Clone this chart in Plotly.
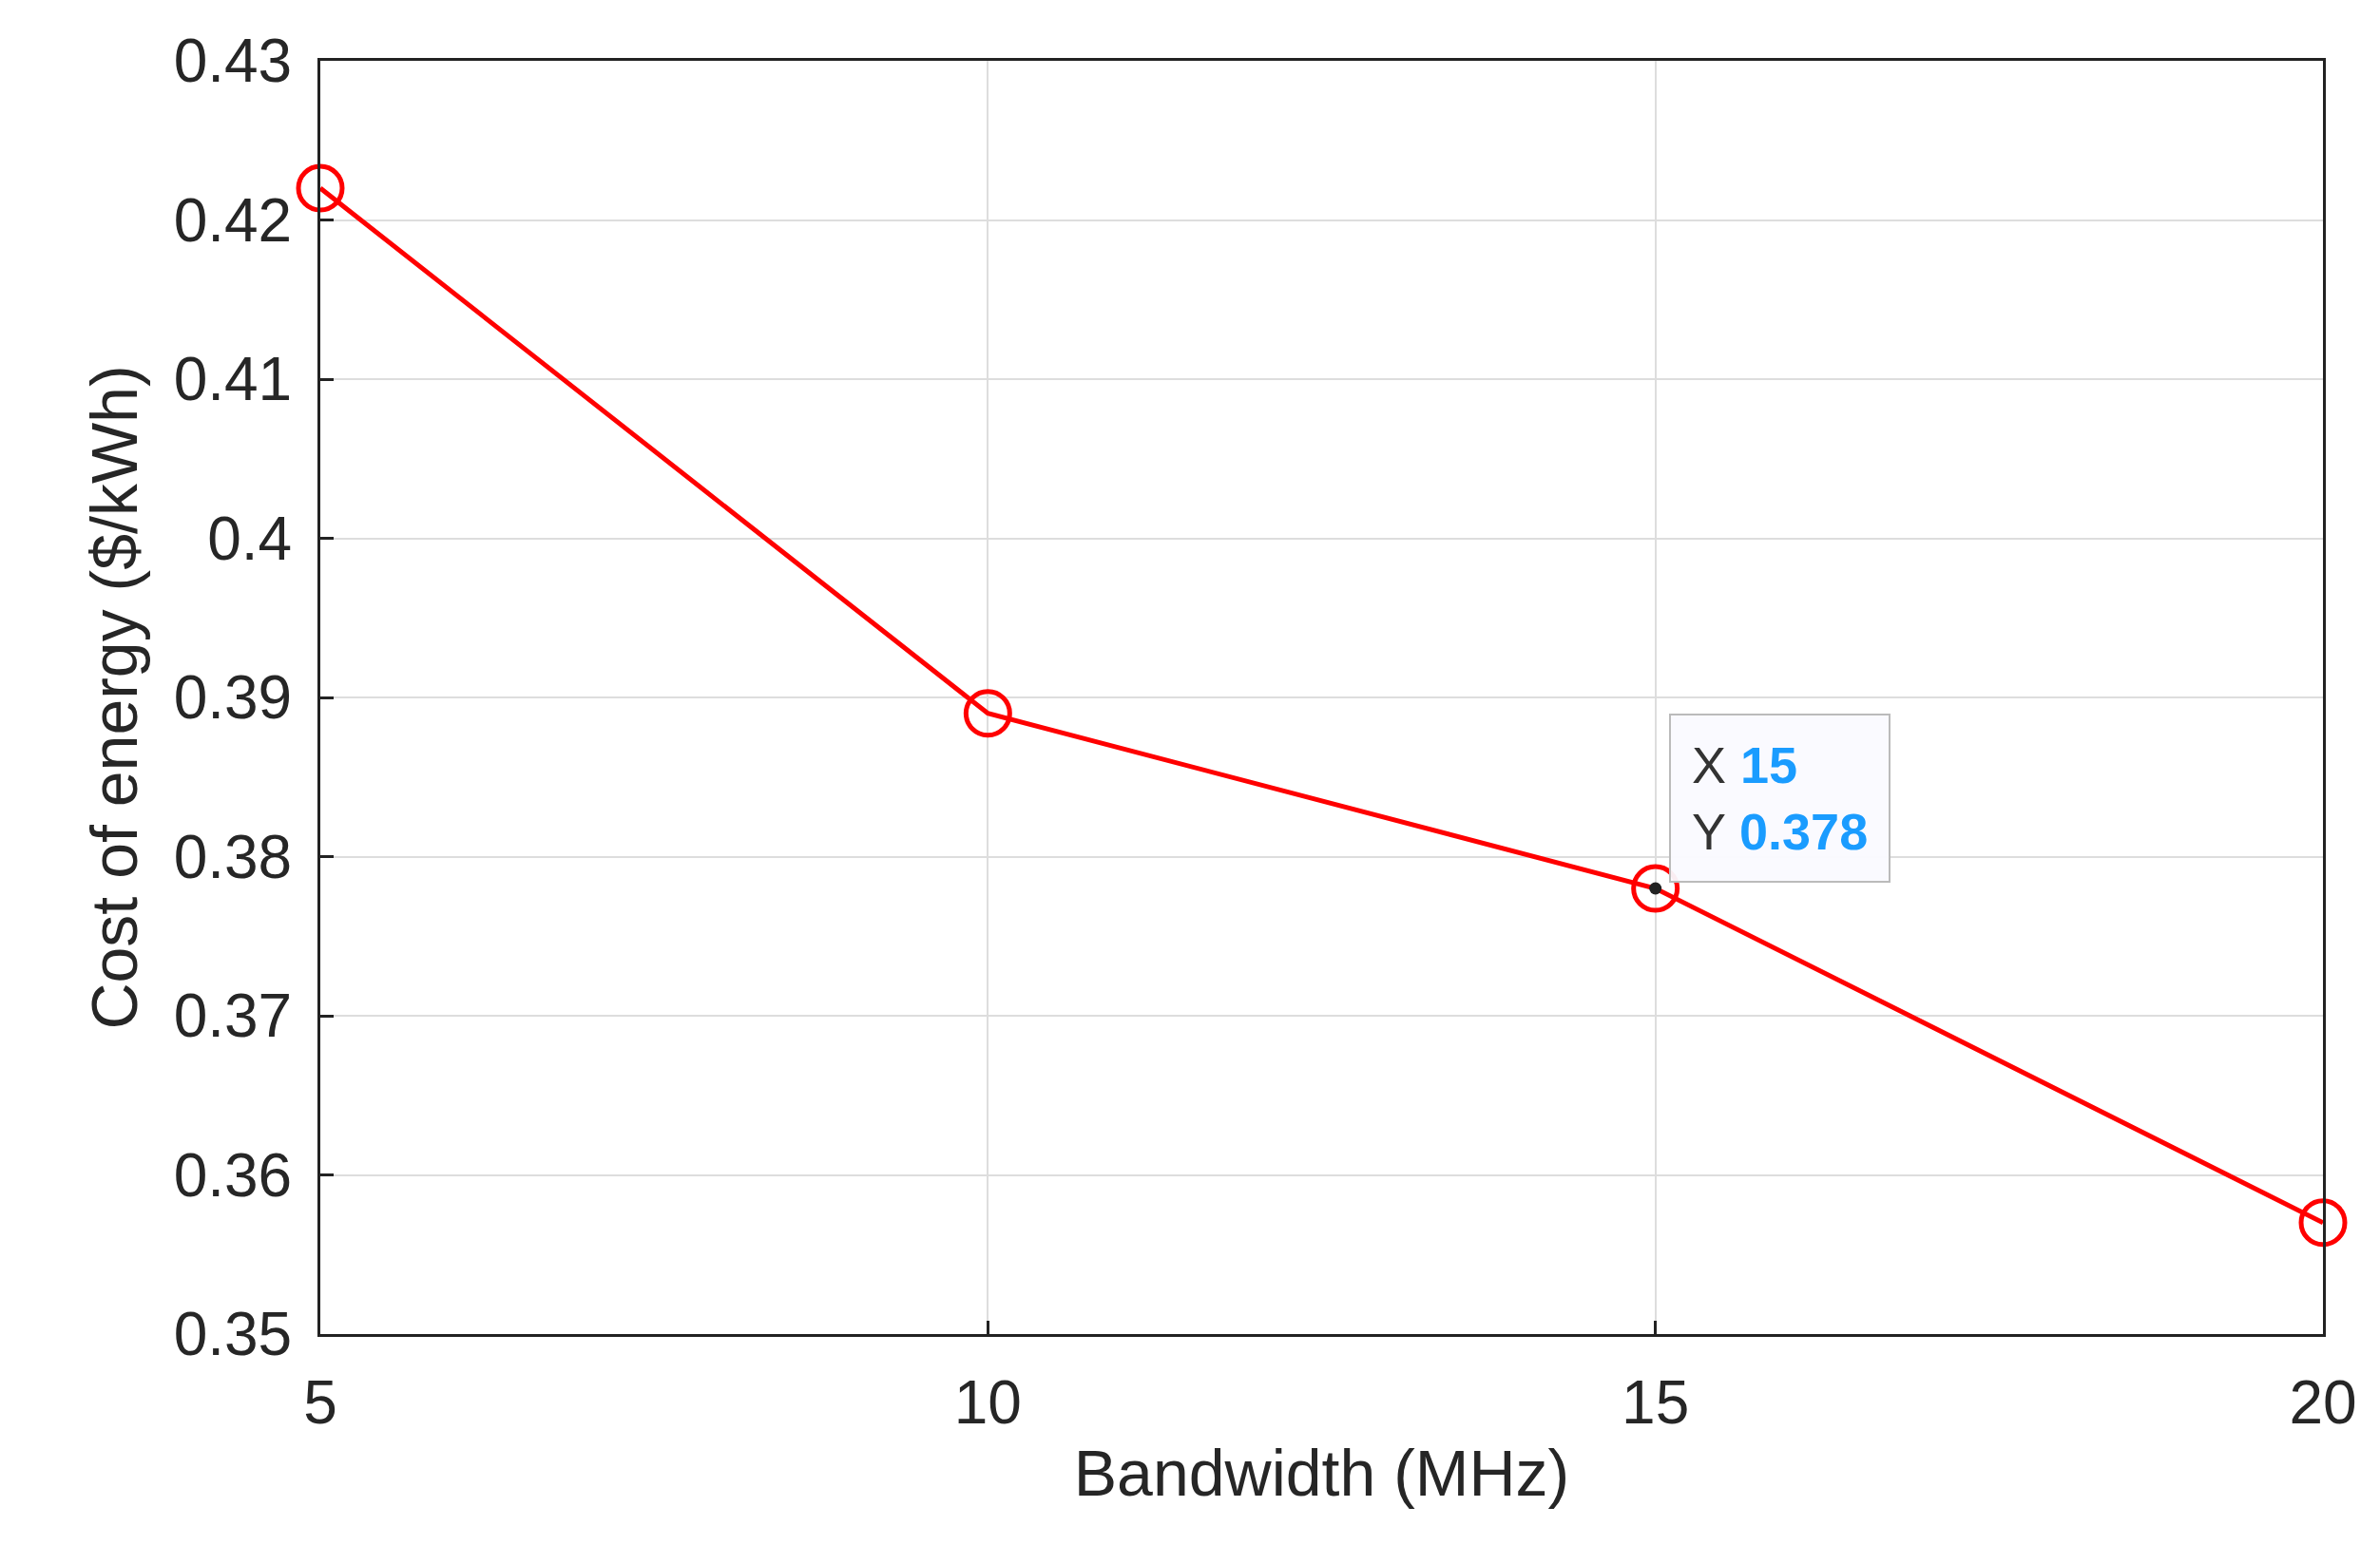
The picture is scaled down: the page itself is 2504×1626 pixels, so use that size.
import plotly.graph_objects as go

bandwidth = [5, 10, 15, 20]
cost = [0.422, 0.389, 0.378, 0.357]
x_ticks = [5, 10, 15, 20]
y_ticks = [0.35, 0.36, 0.37, 0.38, 0.39, 0.4, 0.41, 0.42, 0.43]
y_labels = ["0.35", "0.36", "0.37", "0.38", "0.39", "0.4", "0.41", "0.42", "0.43"]
tip_x, tip_y = 15, 0.378

fig = go.Figure()
fig.add_trace(go.Scatter(
    x=bandwidth, y=cost, mode="lines+markers",
    line=dict(color="#ff0000", width=5),
    marker=dict(symbol="circle-open", size=46, color="#ff0000", line=dict(width=5)),
    cliponaxis=False, showlegend=False
))
# data tip dot
fig.add_trace(go.Scatter(
    x=[tip_x], y=[tip_y], mode="markers",
    marker=dict(size=13, color="#222222"), showlegend=False
))

fig.add_annotation(
    x=tip_x, y=tip_y, xref="x", yref="y",
    text="X <span style='color:#1a9cff'><b>15</b></span><br>Y <span style='color:#1a9cff'><b>0.378</b></span>",
    showarrow=False, xanchor="left", yanchor="bottom", align="left",
    xshift=14, yshift=6,
    font=dict(family="Liberation Sans", size=54, color="#333333"),
    bgcolor="rgba(250,250,255,0.95)", bordercolor="#bbbbbb", borderwidth=2, borderpad=22
)

axis_common = dict(
    showgrid=True, gridcolor="#dddddd", gridwidth=2,
    showline=True, linecolor="#222222", linewidth=3, mirror=True,
    ticks="inside", ticklen=14, tickwidth=3, tickcolor="#222222",
    tickfont=dict(family="Liberation Sans", size=64, color="#262626"),
    ticklabelstandoff=14,
    zeroline=False,
)

fig.update_xaxes(
    range=[5, 20], tickvals=x_ticks,
    title=dict(text="Bandwidth (MHz)", font=dict(family="Liberation Sans", size=68, color="#262626"), standoff=16),
    **axis_common
)
fig.update_yaxes(
    range=[0.35, 0.43], tickvals=y_ticks, ticktext=y_labels,
    title=dict(text="Cost of energy ($/kWh)", font=dict(family="Liberation Sans", size=68, color="#262626"), standoff=16),
    **axis_common
)

fig.update_layout(
    width=2504, height=1626,
    plot_bgcolor="white", paper_bgcolor="white",
    margin=dict(l=329, r=68, t=56, b=230),
)

fig.write_html("out.html")
